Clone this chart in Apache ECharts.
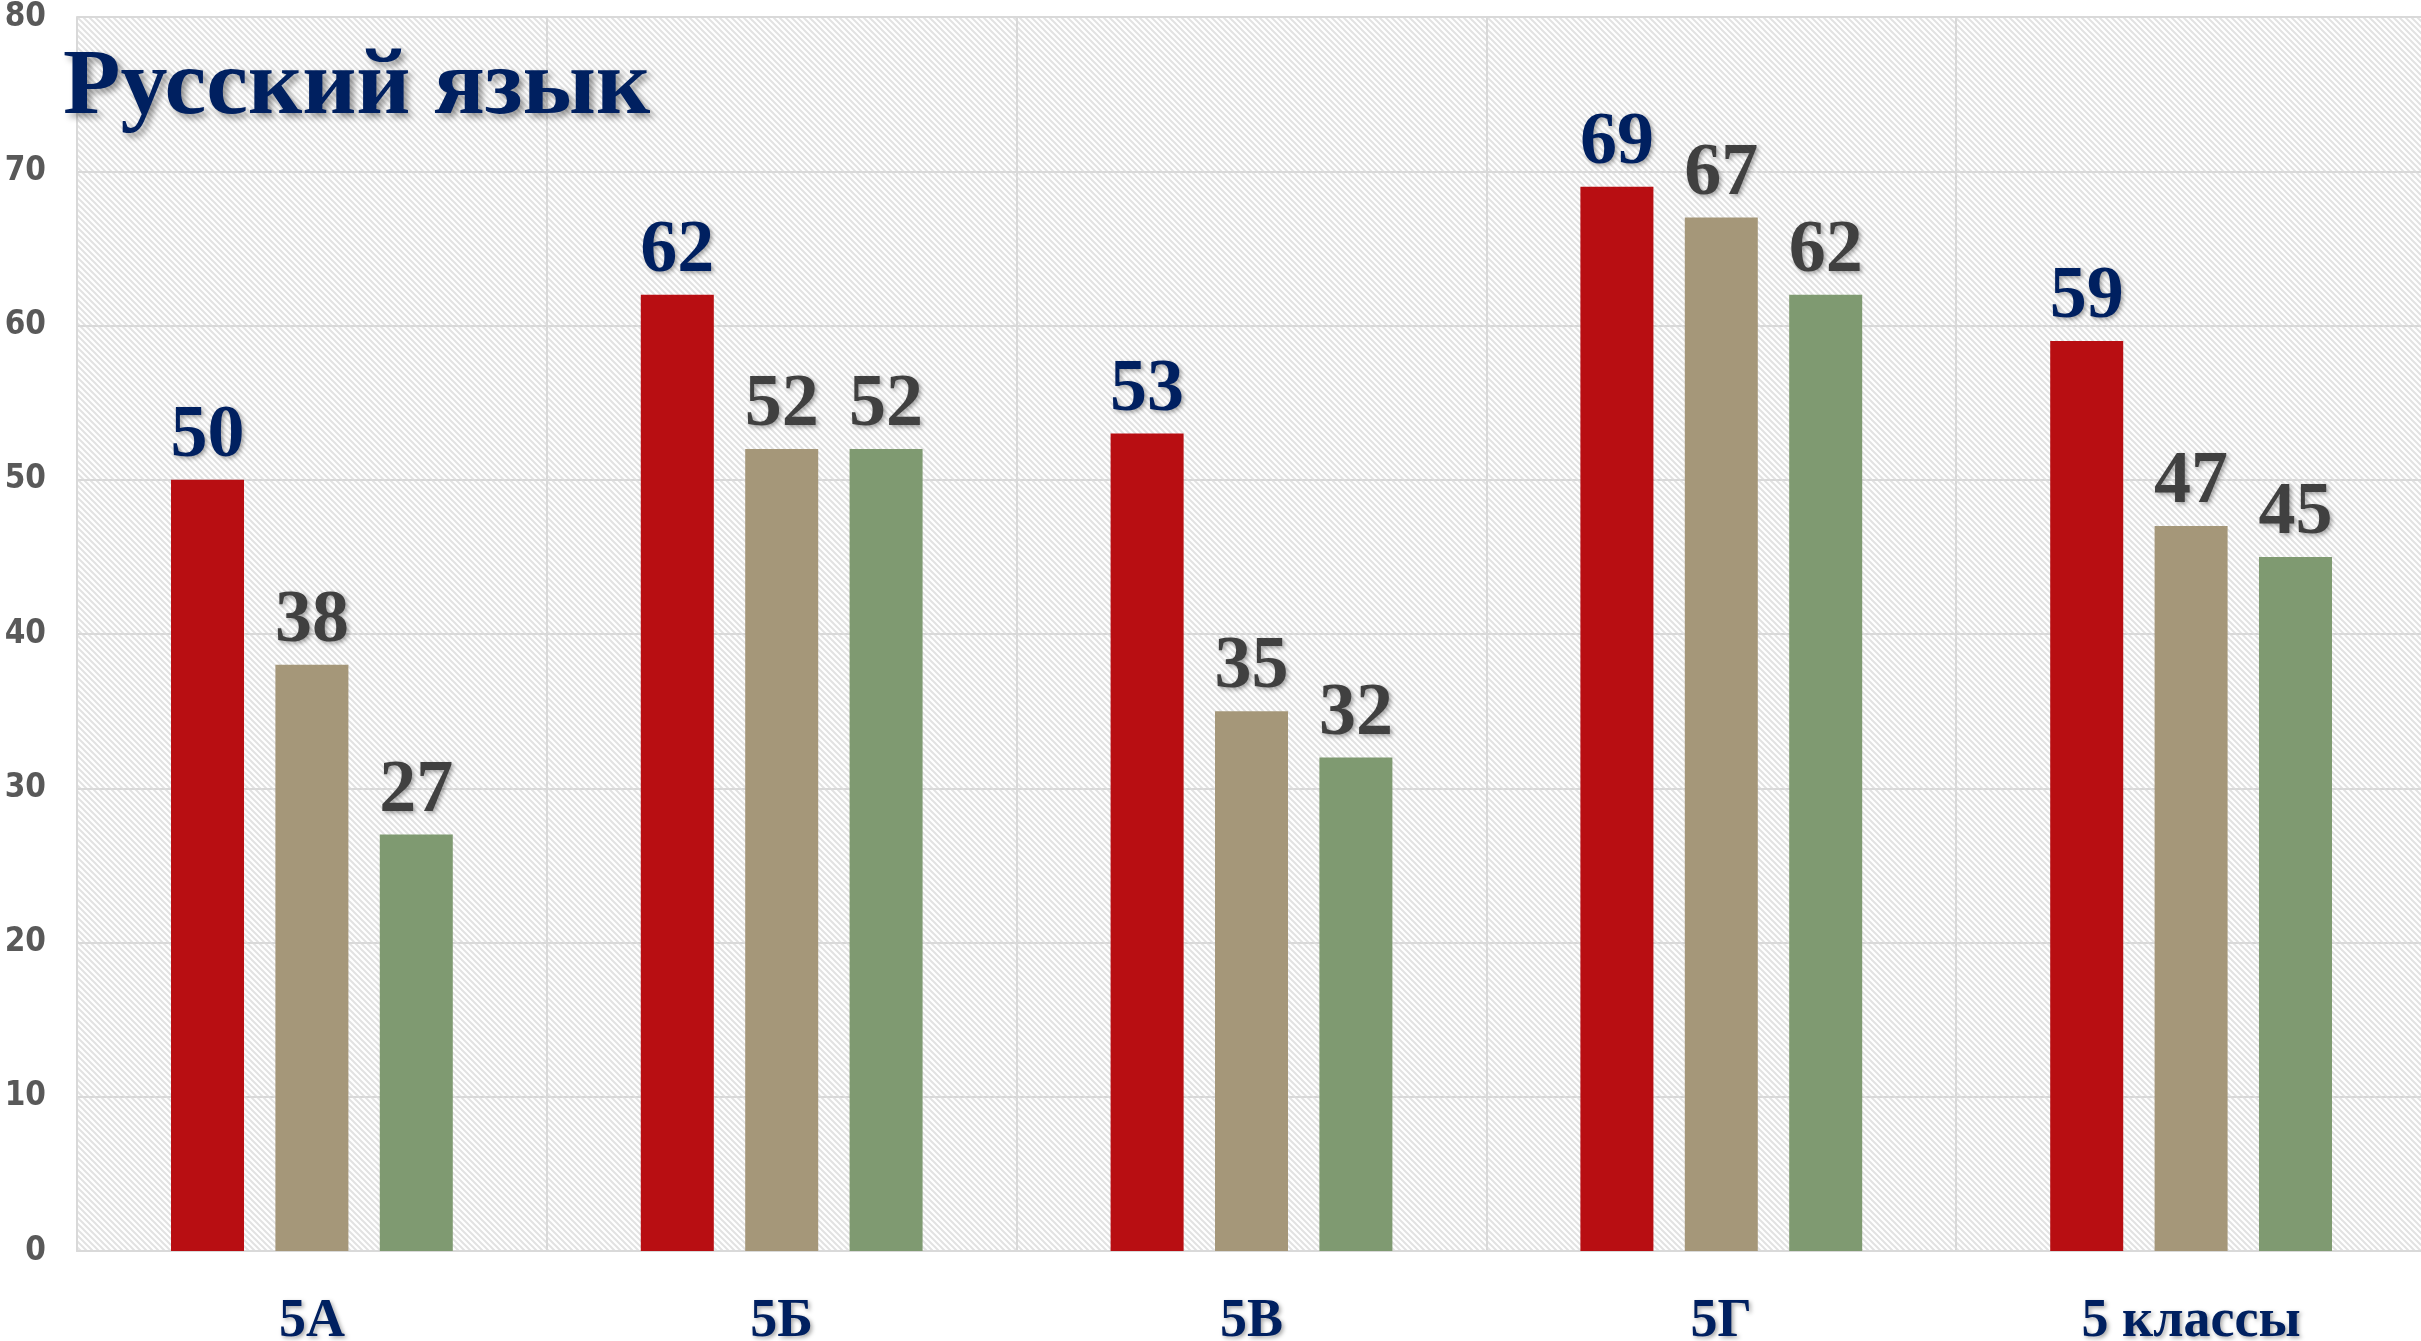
<!DOCTYPE html>
<html>
<head>
<meta charset="utf-8">
<script src="https://cdn.jsdelivr.net/npm/echarts@6/dist/echarts.min.js"></script>
<style>
  html, body { margin: 0; padding: 0; background: #fff; }
  #chart { width: 2421px; height: 1341px; }
</style>
</head>
<body>
<div id="chart"></div>
<script>
const categories = ["5А", "5Б", "5В", "5Г", "5 классы"];
const series1 = [50, 62, 53, 69, 59];
const series2 = [38, 52, 35, 67, 47];
const series3 = [27, 52, 32, 62, 45];
const yTicks = { min: 0, max: 80, interval: 10 };

// diagonal hatch for the plot background
const makeHatch = () => {
  const s = 6;
  const c = document.createElement("canvas");
  c.width = s;
  c.height = s;
  const ctx = c.getContext("2d");
  ctx.fillStyle = "#ffffff";
  ctx.fillRect(0, 0, s, s);
  ctx.strokeStyle = "#e2e2e2";
  ctx.lineWidth = 2;
  ctx.beginPath();
  ctx.moveTo(-2, -2);
  ctx.lineTo(s + 2, s + 2);
  ctx.moveTo(-2, s - 2);
  ctx.lineTo(2, s + 2);
  ctx.moveTo(s - 2, -2);
  ctx.lineTo(s + 2, 2);
  ctx.stroke();
  return c;
};

const serif = "'Liberation Serif', 'Times New Roman', serif";

const labelStyle = (color) => ({
  show: true,
  position: "top",
  distance: 6,
  fontFamily: serif,
  fontWeight: "bold",
  fontSize: 74,
  color: color,
  textShadowColor: "rgba(0,0,0,0.35)",
  textShadowBlur: 4,
  textShadowOffsetX: 2,
  textShadowOffsetY: 2,
});

const chart = echarts.init(document.getElementById("chart"));

const option = {
  backgroundColor: "#ffffff",
  animation: false,
  title: {
    text: "Русский язык",
    left: 58,
    top: 37,
    textStyle: {
      fontFamily: serif,
      fontWeight: "bold",
      fontSize: 94,
      color: "#002060",
      textShadowColor: "rgba(0,0,0,0.4)",
      textShadowBlur: 6,
      textShadowOffsetX: 4,
      textShadowOffsetY: 4,
    },
  },
  grid: {
    left: 77,
    right: -5,
    top: 17,
    bottom: 90,
    outerBoundsMode: "none",
    show: true,
    borderWidth: 0,
    backgroundColor: { image: makeHatch(), repeat: "repeat" },
  },
  xAxis: {
    type: "category",
    data: categories,
    axisLine: { show: true, lineStyle: { color: "#d9d9d9", width: 2 } },
    axisTick: { show: false },
    splitLine: { show: true, lineStyle: { color: "#d9d9d9", width: 2 } },
    axisLabel: {
      margin: 44,
      fontFamily: serif,
      fontWeight: "bold",
      fontSize: 54,
      color: "#002060",
      textShadowColor: "rgba(0,0,0,0.35)",
      textShadowBlur: 4,
      textShadowOffsetX: 2,
      textShadowOffsetY: 2,
    },
  },
  yAxis: {
    type: "value",
    min: yTicks.min,
    max: yTicks.max,
    interval: yTicks.interval,
    axisLine: { show: true, lineStyle: { color: "#d9d9d9", width: 2 } },
    axisTick: { show: false },
    splitLine: { show: true, lineStyle: { color: "#d9d9d9", width: 2 } },
    axisLabel: {
      margin: 31,
      fontFamily: "'Liberation Sans Narrow', 'DejaVu Sans Condensed', sans-serif",
      fontWeight: "bold",
      fontSize: 33,
      color: "#595959",
    },
  },
  series: [
    {
      type: "bar",
      data: series1,
      barWidth: 73,
      barGap: "43%",
      itemStyle: { color: "#B80E12" },
      label: labelStyle("#002060"),
    },
    {
      type: "bar",
      data: series2,
      barWidth: 73,
      barGap: "43%",
      itemStyle: { color: "#A59779" },
      label: labelStyle("#404040"),
    },
    {
      type: "bar",
      data: series3,
      barWidth: 73,
      barGap: "43%",
      itemStyle: { color: "#7F9A71" },
      label: labelStyle("#404040"),
    },
  ],
};

chart.setOption(option);
window.addEventListener("resize", () => chart.resize());
</script>
</body>
</html>
